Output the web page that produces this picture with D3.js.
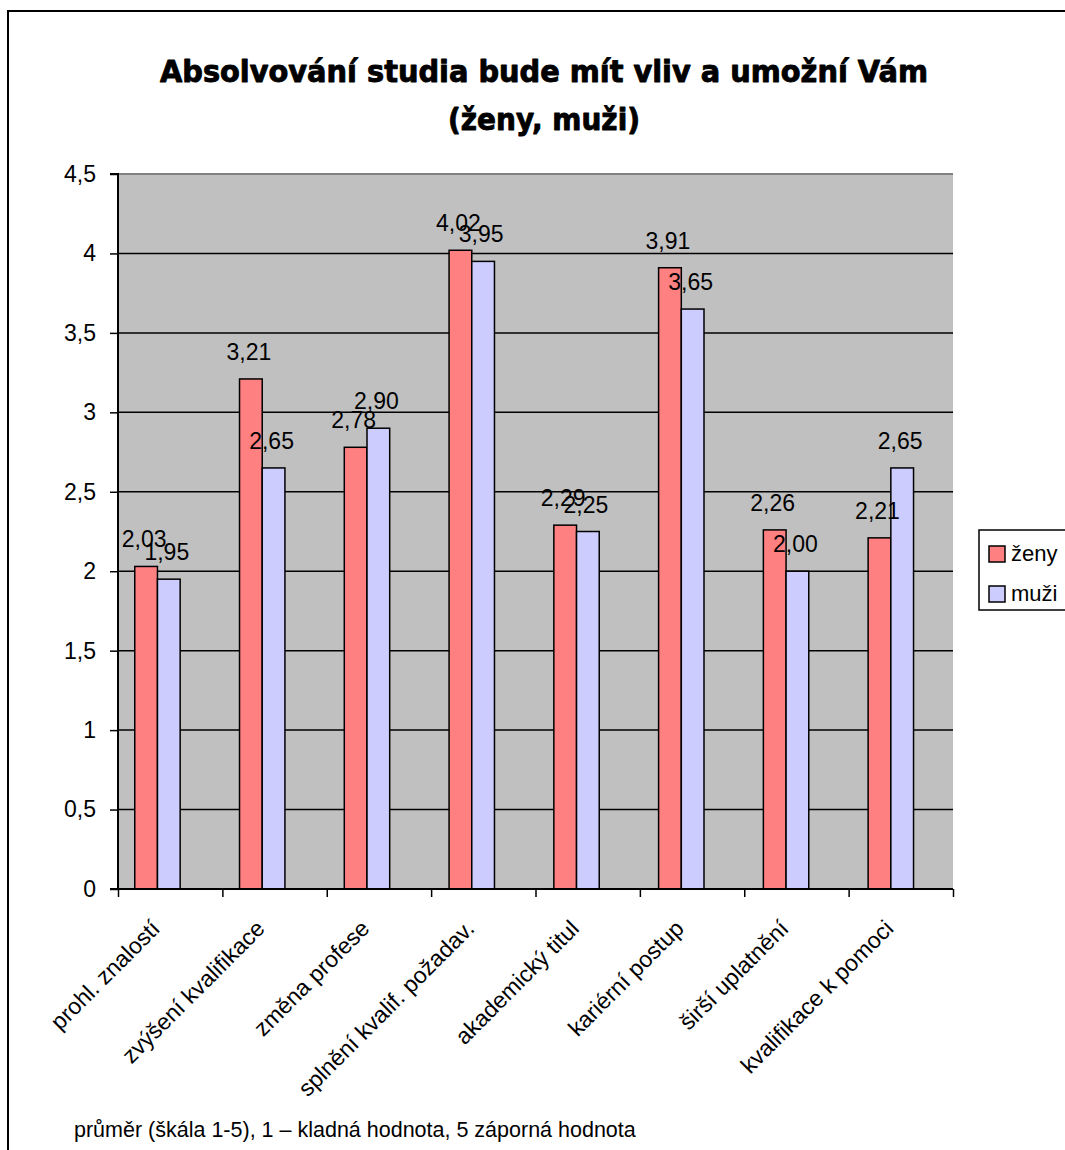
<!DOCTYPE html>
<html><head><meta charset="utf-8">
<script src="https://cdn.jsdelivr.net/npm/d3@7"></script>
<style>body{margin:0;background:#fff}svg{display:block}</style>
</head><body>
<script>
const categories = ["prohl. znalostí","zvýšení kvalifikace","změna profese","splnění kvalif. požadav.","akademický titul","kariérní postup","širší uplatnění","kvalifikace k pomoci"];
const seriesNames = ["ženy","muži"];
const zeny = [2.03,3.21,2.78,4.02,2.29,3.91,2.26,2.21];
const muzi = [1.95,2.65,2.90,3.95,2.25,3.65,2.00,2.65];
const yTicks = [0,0.5,1,1.5,2,2.5,3,3.5,4,4.5];
const titleLines = ["Absolvování studia bude mít vliv a umožní Vám","(ženy, muži)"];
const note = "průměr (škála 1-5), 1 – kladná hodnota, 5 záporná hodnota";

const colors = {"ženy":"#FF8080","muži":"#CCCCFF"};
const W=1065,H=1150;
const svg=d3.select("body").append("svg").attr("width",W).attr("height",H);
svg.append("rect").attr("width",W).attr("height",H).attr("fill","#fff");
// outer frame
svg.append("rect").attr("x",8).attr("y",11).attr("width",1100).attr("height",1200)
  .attr("fill","none").attr("stroke","#000").attr("stroke-width",2);

const L=118,R=953,T=174,B=889;
const x0=d3.scaleBand().domain(categories).range([L,R]).paddingInner(0.35).paddingOuter(0.16);
const step=x0.step();
const x1=d3.scaleBand().domain(seriesNames).range([0,x0.bandwidth()*2/3]);
const y=d3.scaleLinear().domain([0,4.5]).range([B,T]);
const fmt=v=>d3.format(".2f")(v).replace(".",",");
const fmtT=v=>String(v).replace(".",",");
const FF="'Liberation Sans',Arial,sans-serif";

// title
const tl=[{t:titleLines[0],x:544,y:82,len:768},{t:titleLines[1],x:544,y:130,len:192}];
svg.selectAll("text.title").data(tl).join("text").attr("class","title")
  .attr("x",d=>d.x).attr("y",d=>d.y).attr("text-anchor","middle")
  .attr("textLength",d=>d.len).attr("lengthAdjust","spacingAndGlyphs")
  .attr("stroke","#000").attr("stroke-width",0.9).attr("stroke-linejoin","round")
  .style("font-family","'DejaVu Sans',sans-serif").style("font-weight","bold").style("font-size","30px")
  .text(d=>d.t);

// plot bg
svg.append("rect").attr("x",L).attr("y",T).attr("width",R-L).attr("height",B-T).attr("fill","#C0C0C0");
svg.append("line").attr("x1",L).attr("x2",R).attr("y1",T).attr("y2",T).attr("stroke","#808080").attr("stroke-width",2);
// grid
svg.selectAll("line.grid").data(yTicks.filter(v=>v>0&&v<4.5)).join("line").attr("class","grid")
  .attr("x1",L).attr("x2",R).attr("y1",d=>y(d)).attr("y2",d=>y(d)).attr("stroke","#000").attr("stroke-width",1.5);

const rows=categories.map((c,i)=>({c,vals:[{s:"ženy",v:zeny[i]},{s:"muži",v:muzi[i]}]}));
const g=svg.selectAll("g.cat").data(rows).join("g").attr("class","cat").attr("transform",d=>`translate(${x0(d.c)},0)`);
g.selectAll("rect").data(d=>d.vals).join("rect")
  .attr("x",d=>x1(d.s)).attr("y",d=>y(d.v)).attr("width",x1.bandwidth()).attr("height",d=>B-y(d.v))
  .attr("fill",d=>colors[d.s]).attr("stroke","#000").attr("stroke-width",1.5);

// axes
const yAxis=d3.axisLeft(y).tickValues(yTicks).tickSize(8).tickPadding(14).tickFormat(fmtT);
const ya=svg.append("g").attr("transform",`translate(${L},0)`).call(yAxis);
ya.select(".domain").attr("stroke-width",2).attr("d",`M-8,${T}H0V${B}H-8`);
ya.selectAll(".tick line").attr("stroke-width",1.5);
ya.selectAll("text").style("font-family",FF).style("font-size","23px").attr("fill","#000");

const xb=d3.scaleLinear().domain([0,categories.length]).range([L,R]);
const xAxis=d3.axisBottom(xb).tickValues(d3.range(categories.length+1)).tickSize(8).tickFormat("");
const xa=svg.append("g").attr("transform",`translate(0,${B})`).call(xAxis);
xa.select(".domain").attr("stroke-width",2).attr("d",`M${L},0H${R}`);
xa.selectAll(".tick line").attr("stroke-width",1.5);

// x labels
svg.selectAll("text.xl").data(categories).join("text").attr("class","xl")
  .attr("transform",d=>`translate(${x0(d)-step*0.16+step/2-9},${930}) rotate(-45)`)
  .attr("text-anchor","end")
  .style("font-family",FF).style("font-size","23px")
  .text(d=>d);

// value labels
const labs=[];
rows.forEach(r=>r.vals.forEach(v=>labs.push({c:r.c,s:v.s,v:v.v})));
svg.selectAll("text.vl").data(labs).join("text").attr("class","vl")
  .attr("x",d=>x0(d.c)+x1(d.s)+x1.bandwidth()/2-2).attr("y",d=>y(d.v)-19)
  .attr("text-anchor","middle")
  .style("font-family",FF).style("font-size","23px")
  .text(d=>fmt(d.v));

// legend
const lg=svg.append("g");
lg.append("rect").attr("x",979).attr("y",530).attr("width",120).attr("height",80).attr("fill","#fff").attr("stroke","#000").attr("stroke-width",1.5);
const li=lg.selectAll("g").data(seriesNames).join("g").attr("transform",(d,i)=>`translate(989,${546+i*40})`);
li.append("rect").attr("width",16).attr("height",16).attr("fill",d=>colors[d]).attr("stroke","#000").attr("stroke-width",1.5);
li.append("text").attr("x",22).attr("y",15).style("font-family",FF).style("font-size","22px").text(d=>d);

// note
svg.append("text").attr("x",74).attr("y",1137).style("font-family",FF).style("font-size","21.5px").text(note);
</script>
</body></html>
